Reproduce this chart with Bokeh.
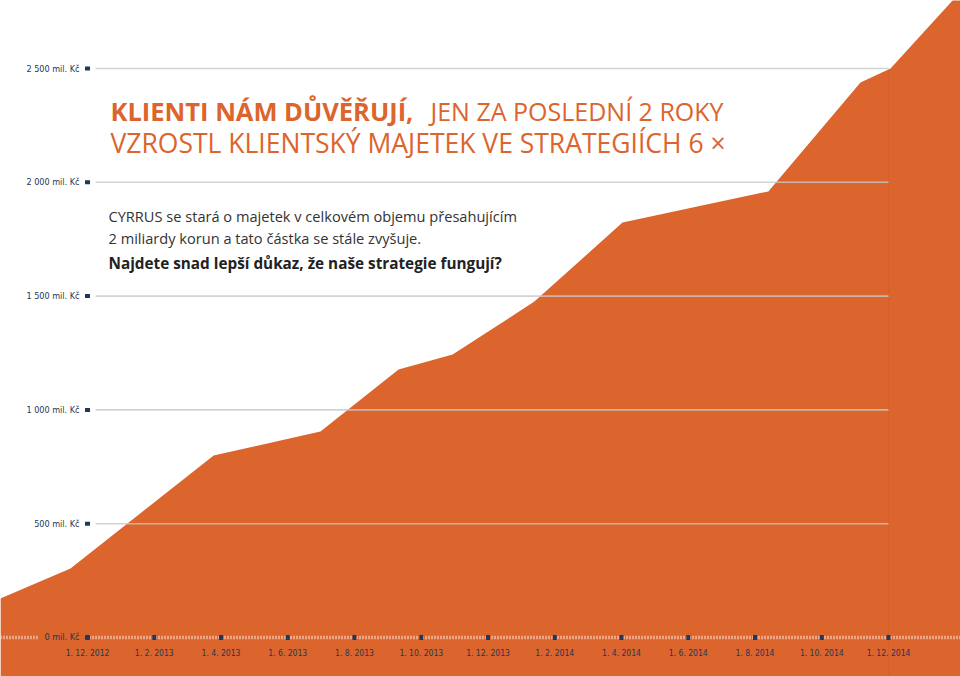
from bokeh.plotting import figure
from bokeh.models import Range1d, Label
from bokeh.core.properties import value
from bokeh.embed import file_html
from bokeh.resources import INLINE

# ---- data (x = months since 1. 12. 2012, y = mil. Kč) ----
months = [-2.61, -0.51, 3.78, 6.98, 9.32, 10.94, 13.39, 16.03, 20.40, 23.16, 24.06, 25.92, 26.6]
assets = [171, 303, 800, 905, 1177, 1243, 1476, 1823, 1960, 2439, 2500, 2799, 2900]

y_ticks = [0, 500, 1000, 1500, 2000, 2500]
y_labels = ["0 mil. Kč", "500 mil. Kč", "1 000 mil. Kč", "1 500 mil. Kč",
            "2 000 mil. Kč", "2 500 mil. Kč"]
x_ticks = [0, 2, 4, 6, 8, 10, 12, 14, 16, 18, 20, 22, 24]
x_labels = ["1. 12. 2012", "1. 2. 2013", "1. 4. 2013", "1. 6. 2013", "1. 8. 2013",
            "1. 10. 2013", "1. 12. 2013", "1. 2. 2014", "1. 4. 2014", "1. 6. 2014",
            "1. 8. 2014", "1. 10. 2014", "1. 12. 2014"]

title_bold = "KLIENTI NÁM DŮVĚŘUJÍ,"
title_rest = "JEN ZA POSLEDNÍ 2 ROKY"
title_line2 = "VZROSTL KLIENTSKÝ MAJETEK VE STRATEGIÍCH 6 ×"
body1 = "CYRRUS se stará o majetek v celkovém objemu přesahujícím"
body2 = "2 miliardy korun a tato částka se stále zvyšuje."
body3 = "Najdete snad lepší důkaz, že naše strategie fungují?"

ORANGE = "#dc642d"
NAVY = "#22385a"
YFONT = "DejaVu Sans Condensed"
XFONT = "DejaVu Sans Condensed"

W, H = 960, 676
p = figure(width=W, height=H, output_backend="svg", toolbar_location=None,
           x_axis_type=None, y_axis_type=None, min_border=0,
           x_range=Range1d(-2.607, 26.157), y_range=Range1d(-171.4, 2798.8))
p.grid.visible = False
p.outline_line_color = None
p.background_fill_color = "white"
p.border_fill_color = "white"

# area
p.varea(x=months, y1=[p.y_range.start] * len(months), y2=assets, fill_color=ORANGE)

# faint vertical edge at last tick
last = x_ticks[-1]
p.segment(x0=[last], x1=[last], y0=[p.y_range.start], y1=[y_ticks[-1]],
          line_color="#7a2a00", line_alpha=0.08, line_width=1)

# horizontal gridlines
grid_vals = y_ticks[1:]
p.segment(x0=[x_ticks[0] + 0.24] * len(grid_vals), x1=[last] * len(grid_vals),
          y0=grid_vals, y1=grid_vals, line_color="#c8c8c8", line_alpha=0.8, line_width=1.6)

# zero line (dotted), with gap behind label
p.segment(x0=[p.x_range.start, x_ticks[0] + 0.06], x1=[-1.5, p.x_range.end],
          y0=[0, 0], y1=[0, 0], line_color="#fbeadf", line_width=3.5, line_dash="1 2")

# y tick squares and labels
p.rect(x=[x_ticks[0]] * len(y_ticks), y=y_ticks, width=5, height=4,
       width_units="screen", height_units="screen", fill_color=NAVY, line_color=None)
p.text(x=[x_ticks[0]] * len(y_ticks), y=y_ticks, text=y_labels, x_offset=-8,
       text_align="right", text_baseline="middle", text_color=NAVY,
       text_font=value(YFONT), text_font_size="9px")

# x tick squares and labels
p.rect(x=x_ticks, y=[0] * len(x_ticks), width=4, height=5,
       width_units="screen", height_units="screen", fill_color=NAVY, line_color=None)
p.text(x=x_ticks, y=[0] * len(x_ticks), text=x_labels, y_offset=16,
       text_align="center", text_baseline="middle", text_color=NAVY,
       text_font=value(XFONT), text_font_size="8.5px")

# title and body text
def lab(txt, x, y, size, color, style="normal", align="left"):
    p.add_layout(Label(x=x, y=y, x_units="screen", y_units="screen", text=txt,
                       text_font="Open Sans", text_font_size=size, text_color=color,
                       text_font_style=style, text_align=align,
                       text_baseline="alphabetic"))

lab(title_bold, 110, 566, "25.5px", ORANGE, "bold")
lab(title_rest, 430, 566, "25px", ORANGE)
lab(title_line2, 110, 534, "26.5px", ORANGE)
lab(body1, 108, 461, "14.6px", "#333333")
lab(body2, 108, 439, "14.6px", "#333333")
lab(body3, 108, 414, "15.3px", "#222222", "bold")

open("out.html", "w").write(file_html(p, INLINE))
